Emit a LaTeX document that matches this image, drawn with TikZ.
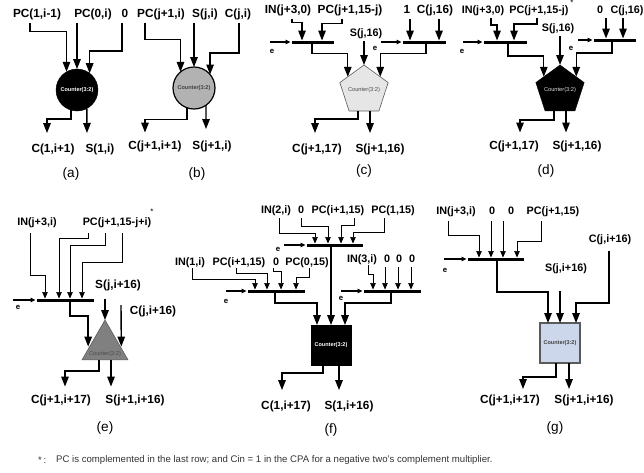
\documentclass[tikz,border=0pt]{standalone}
\usepackage{fontspec}
\setmainfont{Liberation Sans}
\usepackage{xcolor}
\definecolor{paleblue}{RGB}{205,215,235}
\definecolor{midgrey}{RGB}{128,128,128}
\definecolor{lightgrey}{RGB}{178,178,178}
\definecolor{palegrey}{RGB}{230,230,230}
\definecolor{edgegrey}{RGB}{90,90,90}
\usetikzlibrary{arrows.meta, shapes.geometric}

\begin{document}
\begin{tikzpicture}[
  x=1pt, y=-1pt,
  lab/.style={font=\fontsize{11.8}{12}\selectfont\bfseries, inner sep=0pt, text height=8.5pt, text depth=2.5pt, outer ysep=3pt},
  smlab/.style={font=\fontsize{10.8}{12}\selectfont\bfseries, inner sep=0pt, text height=8pt, text depth=2pt, outer ysep=3pt},
  botlab/.style={font=\fontsize{11.8}{12}\selectfont\bfseries, inner sep=0pt, text height=8.5pt, text depth=2.5pt, outer ysep=8pt},
  caplab/.style={font=\fontsize{13.6}{14}\selectfont, inner sep=0pt},
  elab/.style={font=\fontsize{7.8}{8}\selectfont\bfseries, inner sep=0pt},
  starlab/.style={font=\fontsize{8}{8}\selectfont, inner sep=0pt},
  bus/.style={fill=black, inner sep=0pt, outer sep=0pt, minimum height=3pt, anchor=west},
  cnt/.style={inner sep=0pt, outer sep=0pt},
  cntb/.style={cnt, font=\fontsize{5.5}{6}\selectfont\bfseries},
  cntlab/.style={font=\fontsize{5.7}{6}\selectfont, inner sep=0pt},
  arr/.style={-{Triangle[length=10pt,width=7.5pt]}, line width=1.4pt},
  thinarr/.style={-{Triangle[length=6.5pt,width=5.5pt]}, line width=0.7pt},
  earr/.style={-{Triangle[length=5pt,width=4.5pt]}, line width=1.2pt, shorten >=1.5pt},
]
  \useasboundingbox (0,0) rectangle (644,472);

  % (a)
  \node[lab] (pa1) at (37,14) {PC(1,i-1)};
  \node[lab] (pa2) at (93,14) {PC(0,i)};
  \node[lab] (pa3) at (125,14) {0};
  \node[cntb, circle, draw=black, fill=black, text=white, minimum size=42pt] (ca) at (77,90) {Counter(3:2)};
  \node[botlab] (la1) at (53,149) {C(1,i+1)};
  \node[botlab] (la2) at (100,149) {S(1,i)};
  \node[caplab] (capa) at (71,174) {(a)};
  \draw[arr] ([xshift=-7]pa1.south) -- ++(0,9) -| (ca.120);
  \draw[arr] ([xshift=-16]pa2.south) -- (ca.north);
  \draw[arr] ([xshift=-3]pa3.south) -- ++(0,28.5) -| (ca.53);
  \draw[arr] (ca.-107) -- ++(0,9) -| ([xshift=-6,yshift=2.5]la1.north);
  \draw[arr] (ca.-62) -- ([xshift=-13,yshift=2.5]la2.north);

  % (b)
  \node[lab] (pb1) at (161,14) {PC(j+1,i)};
  \node[lab] (pb2) at (205,14) {S(j,i)};
  \node[lab] (pb3) at (238,14) {C(j,i)};
  \node[cntb, circle, draw=black, line width=1.2pt, fill=lightgrey, text=black!75, minimum size=42pt] (cb) at (194,88) {Counter(3:2)};
  \node[botlab] (lb1) at (155,146) {C(j+1,i+1)};
  \node[botlab] (lb2) at (212,146) {S(j+1,i)};
  \node[caplab] (capb) at (197,174) {(b)};
  \draw[arr] ([xshift=-16]pb1.south) -- ++(0,17) -| (cb.130);
  \draw[arr] ([xshift=-11]pb2.south) -- (cb.north);
  \draw[arr] ([xshift=1]pb3.south) -- ++(0,30.5) -| (cb.40);
  \draw[arr] (cb.-110) -- ++(0,12) -| ([xshift=-10]lb1.north);
  \draw[arr] (cb.-55) -- ([xshift=-6,yshift=3.5]lb2.north);

  % (c)
  \node[lab] (pc1) at (288,10) {IN(j+3,0)};
  \node[lab] (pc2) at (350,10) {PC(j+1,15-j)};
  \node[lab] (pc3) at (407,10) {1};
  \node[lab] (pc4) at (435,10) {C(j,16)};
  \node[smlab] (sc) at (366,33) {S(j,16)};
  \node[bus, minimum width=42pt] (busc1) at (292,42) {};
  \node[bus, minimum width=43pt] (busc2) at (403,42) {};
  \coordinate (ec1) at (270,42);
  \coordinate (ec2) at (381,42);
  \node[elab] (lec1) at (272,51) {e};
  \node[elab] (lec2) at (375,48) {e};
  \node[cnt, regular polygon, regular polygon sides=5, draw=edgegrey, line width=0.6pt, fill=palegrey, minimum size=50.8pt,
        label={[cntlab, text=black!70]center:Counter(3:2)}] (cc) at (364,90.4) {};
  \node[botlab] (lc1) at (317,149) {C(j+1,17)};
  \node[botlab] (lc2) at (380,149) {S(j+1,16)};
  \node[caplab] (capc) at (364,171) {(c)};
  \draw[earr] (ec1) -- (busc1.west);
  \draw[earr] (ec2) -- (busc2.west);
  \draw[arr] ([xshift=4]pc1.south) -- ++(0,4) -| ([xshift=10]busc1.north west);
  \draw[arr] ([xshift=-8]pc2.south) -- ++(0,5) -| ([xshift=30]busc1.north west);
  \draw[arr] ([xshift=3]pc3.south) -- ([xshift=7]busc2.north west);
  \draw[arr] ([xshift=4]pc4.south) -- ([xshift=36]busc2.north west);
  \draw[arr] ([xshift=20]busc1.south west) -- ++(0,10) -| (cc.140);
  \draw[arr] ([xshift=23]busc2.south west) -- ++(0,10) -| (cc.40);
  \draw[arr] ([xshift=-2]sc.south) -- (cc.north);
  \draw[arr] ([xshift=-6]cc.south) -- ++(0,8) -| ([xshift=-2,yshift=2.5]lc1.north);
  \draw[arr] ([xshift=6]cc.south) -- ([xshift=-10,yshift=2.5]lc2.north);

  % (d)
  \node[smlab] (pd1) at (483,10) {IN(j+3,0)};
  \node[smlab] (pd2) at (539,10) {PC(j+1,15-j)};
  \node[starlab] (stard) at (572,3) {*};
  \node[smlab] (pd3) at (600,10) {0};
  \node[smlab] (pd4) at (627,10) {C(j,16)};
  \node[smlab] (sd) at (558,28) {S(j,16)};
  \node[bus, minimum width=43pt] (busd1) at (484,42) {};
  \node[bus, minimum width=42pt] (busd2) at (594,40) {};
  \coordinate (ed1) at (463,42);
  \coordinate (ed2) at (578,40);
  \node[elab] (led1) at (462,51) {e};
  \node[elab] (led2) at (571,48) {e};
  \node[cnt, regular polygon, regular polygon sides=5, draw=black, fill=black, minimum size=50.8pt,
        label={[cntlab, text=white!85!black]center:Counter(3:2)}] (cd) at (560,90.4) {};
  \node[botlab] (ld1) at (514,146) {C(j+1,17)};
  \node[botlab] (ld2) at (577,146) {S(j+1,16)};
  \node[caplab] (capd) at (546,171) {(d)};
  \draw[earr] (ed1) -- (busd1.west);
  \draw[earr] (ed2) -- (busd2.west);
  \draw[arr] ([xshift=8]pd1.south) -- ++(0,7) -| ([xshift=13]busd1.north west);
  \draw[arr] ([xshift=-2]pd2.south) -- ++(0,6) -| ([xshift=30]busd1.north west);
  \draw[arr] ([xshift=6]pd3.south) -- ([xshift=12]busd2.north west);
  \draw[arr] ([xshift=-4]pd4.south) -- ([xshift=29]busd2.north west);
  \draw[arr] ([xshift=24]busd1.south west) -- ++(0,12.5) -| (cd.140);
  \draw[arr] ([xshift=18]busd2.south west) -- ++(0,11.5) -| (cd.40);
  \draw[arr] ([xshift=2]sd.south) -- (cd.north);
  \draw[arr] ([xshift=-6]cd.south) -- ++(0,9) -| ([xshift=6]ld1.north);
  \draw[arr] ([xshift=6]cd.south) -- ([xshift=-11]ld2.north);

  % (e)
  \node[smlab] (pe1) at (37,222) {IN(j+3,i)};
  \node[smlab] (pe2) at (117,222) {PC(j+1,15-j+i)};
  \node[starlab] (stare) at (152,212) {*};
  \node[lab] (se) at (118,285) {S(j,i+16)};
  \node[lab] (ke) at (153,311) {C(j,i+16)};
  \node[bus, minimum width=57pt] (buse) at (37,300) {};
  \coordinate (ee) at (13,300);
  \coordinate (wke) at (121,305);
  \node[elab] (lee) at (18,307) {e};
  \node[cnt, regular polygon, regular polygon sides=3, draw=edgegrey, line width=0.6pt, fill=midgrey, minimum size=53.1pt,
        label={[cntlab, text=black!70, yshift=-7.5pt]center:Counter(3:2)}] (ce) at (105,346.6) {};
  \node[botlab] (le1) at (61,400) {C(j+1,i+17)};
  \node[botlab] (le2) at (135,400) {S(j+1,i+16)};
  \node[caplab] (cape) at (105,428) {(e)};
  \draw[earr] (ee) -- (buse.west);
  \draw[thinarr] ([xshift=-7,yshift=-3]pe1.south) -- ++(0,42) -| ([xshift=8]buse.north west);
  \draw[thinarr] ([xshift=-29,yshift=-3]pe2.south) -- ++(0,5) -| ([xshift=22]buse.north west);
  \draw[thinarr] ([xshift=-12,yshift=-3]pe2.south) -- ++(0,12) -| ([xshift=33]buse.north west);
  \draw[thinarr] ([xshift=5,yshift=-3]pe2.south) -- ++(0,29) -| ([xshift=45]buse.north west);
  \draw[arr] ([xshift=33]buse.south west) -- ++(0,14.5) -| ([xshift=-1.5]ce.180);
  \draw[arr] ([xshift=-13,yshift=-5.5]se.south) -- (ce.north);
  \draw[arr] (wke) -- ([xshift=1]ce.0);
  \draw[arr] ([xshift=-6]ce.south) -- ++(0,11) -| ([xshift=4]le1.north);
  \draw[arr] ([xshift=6]ce.south) -- ([xshift=-24]le2.north);

  % (f)
  \node[smlab] (pf1) at (276,210) {IN(2,i)};
  \node[smlab] (pf2) at (301,210) {0};
  \node[smlab] (pf3) at (338,210) {PC(i+1,15)};
  \node[smlab] (pf4) at (393,210) {PC(1,15)};
  \node[smlab] (pf5) at (190,262) {IN(1,i)};
  \node[smlab] (pf6) at (239,262) {PC(i+1,15)};
  \node[smlab] (pf7) at (276,262) {0};
  \node[smlab] (pf8) at (307,262) {PC(0,15)};
  \node[smlab] (pf9) at (362,259) {IN(3,i)};
  \node[smlab] (pf10) at (387,259) {0};
  \node[smlab] (pf11) at (399,259) {0};
  \node[smlab] (pf12) at (412,259) {0};
  \node[bus, minimum width=56pt] (busf1) at (307,245) {};
  \node[bus, minimum width=57pt] (busf2) at (248,291) {};
  \node[bus, minimum width=57pt] (busf3) at (364,291) {};
  \coordinate (ef1) at (284,245);
  \coordinate (ef2) at (226,291);
  \coordinate (ef3) at (341,291);
  \node[elab] (lef1) at (278,249) {e};
  \node[elab] (lef2) at (226,301) {e};
  \node[elab] (lef3) at (341,298) {e};
  \node[cntb, rectangle, fill=black, text=white, minimum size=41pt] (cf) at (331,345.5) {Counter(3:2)};
  \node[botlab] (lf1) at (286,406) {C(1,i+17)};
  \node[botlab] (lf2) at (349,406) {S(1,i+16)};
  \node[caplab] (capf) at (331,430) {(f)};
  \draw[earr] (ef1) -- (busf1.west);
  \draw[earr] (ef2) -- (busf2.west);
  \draw[earr] (ef3) -- (busf3.west);
  \draw[thinarr] ([xshift=3]pf1.south) -- ++(0,15) -| ([xshift=8]busf1.north west);
  \draw[thinarr] (pf2.south) -- ++(0,8) -| ([xshift=21]busf1.north west);
  \draw[thinarr] ([xshift=16]pf3.south) -- ++(0,7) -| ([xshift=34]busf1.north west);
  \draw[thinarr] ([xshift=-9]pf4.south) -- ++(0,14) -| ([xshift=46]busf1.north west);
  \draw[thinarr] ([xshift=2,yshift=2]pf5.south) -- ++(0,11) -| ([xshift=7]busf2.north west);
  \draw[thinarr] ([xshift=-3,yshift=2]pf6.south) -- ++(0,5) -| ([xshift=19]busf2.north west);
  \draw[thinarr] ([xshift=-3,yshift=2]pf7.south) -- ++(0,3) -| ([xshift=33]busf2.north west);
  \draw[thinarr] ([xshift=2,yshift=2]pf8.south) -- ++(0,9) -| ([xshift=48]busf2.north west);
  \draw[thinarr] ([xshift=6,yshift=2]pf9.south) -- ++(0,9) -| ([xshift=9]busf3.north west);
  \draw[thinarr] ([xshift=-2]pf10.south) -- ([xshift=21]busf3.north west);
  \draw[thinarr] ([xshift=-1]pf11.south) -- ([xshift=34]busf3.north west);
  \draw[thinarr] ([xshift=-1]pf12.south) -- ([xshift=47]busf3.north west);
  \draw[arr] ([xshift=24]busf1.south west) -- (cf.north);
  \draw[arr] ([xshift=27]busf2.south west) -- ++(0,10.5) -| ([xshift=-14]cf.north);
  \draw[arr] ([xshift=27]busf3.south west) -- ++(0,10.5) -| ([xshift=14]cf.north);
  \draw[arr] ([xshift=-8]cf.south) -- ++(0,7) -| ([xshift=-4,yshift=2.5]lf1.north);
  \draw[arr] ([xshift=8]cf.south) -- ([xshift=-10,yshift=2.5]lf2.north);

  % (g)
  \node[smlab] (pg1) at (456,211) {IN(j+3,i)};
  \node[smlab] (pg2) at (492,211) {0};
  \node[smlab] (pg3) at (511,211) {0};
  \node[smlab] (pg4) at (553,211) {PC(j+1,15)};
  \node[smlab] (sg) at (566,268) {S(j,i+16)};
  \node[smlab] (kg) at (610,239) {C(j,i+16)};
  \node[bus, minimum width=56pt] (busg) at (468,259) {};
  \coordinate (eg) at (444,259);
  \node[elab] (leg) at (445,270) {e};
  \node[cntb, rectangle, draw=edgegrey, line width=1.2pt, fill=paleblue, text=black!75, minimum size=40pt] (cg) at (560,343) {Counter(3:2)};
  \node[botlab] (lg1) at (510,400) {C(j+1,i+17)};
  \node[botlab] (lg2) at (584,400) {S(j+1,i+16)};
  \node[caplab] (capg) at (555,428) {(g)};
  \draw[earr] (eg) -- (busg.west);
  \draw[thinarr] ([xshift=-8,yshift=-2]pg1.south) -- ++(0,14) -| ([xshift=11]busg.north west);
  \draw[thinarr] ([xshift=-1,yshift=-2]pg2.south) -- ([xshift=23]busg.north west);
  \draw[thinarr] ([xshift=-8,yshift=-2]pg3.south) -- ([xshift=35]busg.north west);
  \draw[thinarr] ([xshift=-12,yshift=-2]pg4.south) -- ++(0,20) -| ([xshift=49]busg.north west);
  \draw[arr] ([xshift=29]busg.south west) -- ++(0,31.5) -| ([xshift=-12]cg.north);
  \draw[arr] ([xshift=-6,yshift=-15]sg.south) -- (cg.north);
  \draw[arr] ([xshift=-1,yshift=-4]kg.south) -- ++(0,52) -| ([xshift=16]cg.north);
  \draw[arr] ([xshift=-4]cg.south) -- ++(0,14) -| ([xshift=13,yshift=-2.5]lg1.north);
  \draw[arr] ([xshift=9]cg.south) -- ([xshift=-15,yshift=-2.5]lg2.north);

  % note
  \node[anchor=west, inner sep=0pt, text=black!80, font=\fontsize{9.6}{11}\selectfont] (notes) at (38,460) {*\,:};
  \node[anchor=west, inner sep=0pt, text=black!80, font=\fontsize{9.6}{11}\selectfont] (note) at (56,460)
    {PC is complemented in the last row; and Cin = 1 in the CPA for a negative two's complement multiplier.};
\end{tikzpicture}
\end{document}
